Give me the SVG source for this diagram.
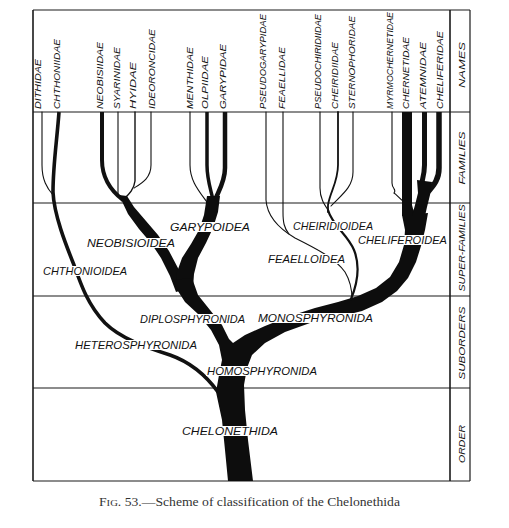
<svg xmlns="http://www.w3.org/2000/svg" width="509" height="528" viewBox="0 0 509 528">
<style>
.frame{fill:none;stroke:#1a1a1a;stroke-width:1.2}
.thin{fill:none;stroke:#111;stroke-width:1.1;stroke-linecap:round}
.med{fill:none;stroke:#111;stroke-width:1.8;stroke-linecap:round}
.thick{fill:none;stroke:#111;stroke-width:3.5;stroke-linecap:butt}
.blk{fill:#0d0d0d;stroke:none}
.vl{font-family:"Liberation Sans",Arial,sans-serif;font-style:italic;font-size:9.5px;fill:#111}
.hl{font-family:"Liberation Sans",Arial,sans-serif;font-style:italic;font-size:11px;fill:#111}
.ko{fill:#fff}
.cap{font-family:"Liberation Serif","Times New Roman",serif;font-size:11.5px;fill:#333}
</style>
<rect width="509" height="528" fill="#fff"/>
<g id="frame">
<line class="frame" x1="33" y1="10" x2="470" y2="10"/>
<line class="frame" x1="33" y1="10" x2="33" y2="481" style="stroke-width:1.6"/>
<line class="frame" x1="450" y1="10" x2="450" y2="481" style="stroke-width:1.6"/>
<line class="frame" x1="470" y1="10" x2="470" y2="481"/>
<line class="frame" x1="33" y1="112" x2="470" y2="112"/>
<line class="frame" x1="33" y1="203" x2="470" y2="203"/>
<line class="frame" x1="33" y1="296" x2="470" y2="296"/>
<line class="frame" x1="33" y1="388" x2="470" y2="388"/>
<line class="frame" x1="33" y1="481" x2="470" y2="481"/>
</g>
<g id="connectors">
<!-- Chthonioidea / Heterosphyronida -->
<path class="thin" d="M42,112 L42,165 C42,180 47,188 53,195"/>
<path class="thick" d="M59,112 C57,140 53,165 53,192 C54,215 66,245 74,265 C81,285 88,305 105,323 C120,338 145,347 170,355 C190,362 205,374 218,392" style="stroke-width:3.6"/>
<!-- Neobisioidea -->
<path class="thick" d="M102,112 L102,160 C102,178 110,190 123,200" style="stroke-width:4"/>
<path class="thin" d="M118,112 L118,196 L122,201"/>
<path class="thin" d="M151,112 L151,165 C151,178 142,183 134,188"/>
<path class="med" d="M135,112 L135,181 C134,190 128,195 123,200" style="stroke-width:1.4"/>
<path class="blk" d="M119,195 L127,196 L134,207 L146,221 L158,235 L169,251 L179,270 L190,288 L176,292 L170,276 L161,258 L151,243 L139,229 L128,214 Z"/>
<!-- Garypoidea -->
<path class="thin" d="M190,112 L190,165 C190,182 200,192 209,205"/>
<path class="thick" d="M207,112 L207,165 C207,180 211,190 213,200"/>
<path class="thick" d="M225,112 L225,168 C225,182 218,192 215,200" style="stroke-width:4.5"/>
<path class="blk" d="M207,196 L220,196 L218,212 L213,228 L206,243 L198,258 L194,274 L193,288 L176,288 L177,272 L182,258 L191,244 L199,230 L204,215 Z"/>
<!-- Trunk and main forks -->
<path class="blk" d="M228,481 L225,450 L222,420 L216,392 L219,375 L222,360 L219,345 L211,330 L198,314 L185,302 L176,288 L172,280 L192,278 L198,295 L210,310 L222,325 L229,339 L233,343 L245,335 L265,326 L290,316 L315,308 L338,302 L358,296 L376,288 L390,277 L399,262 L404,245 L405,230 L402,215 L428,213 L425,230 L421,246 L416,262 L408,278 L397,291 L382,302 L362,311 L338,317 L310,323 L285,332 L265,343 L252,355 L247,368 L244,385 L245,410 L248,440 L253,481 Z"/>
<!-- Feaelloidea -->
<path class="thin" d="M266,112 L266,200 C267,215 278,228 295,238 C315,248 335,258 345,272 C351,282 352,292 352,299"/>
<path class="thin" d="M283,112 L283,212 C283,222 284,228 289,234"/>
<!-- Cheiridioidea -->
<path class="thin" d="M320,112 L320,188 C320,198 324,204 328,210"/>
<path class="med" d="M338,112 L338,165 C338,182 330,192 328,205 L328,212"/>
<path class="thin" d="M353,112 L353,172 C353,188 340,196 331,206"/>
<path class="med" d="M328,210 C332,225 348,235 354,250 C360,265 358,282 351,299" style="stroke-width:2.2"/>
<!-- Cheliferoidea -->
<path class="thin" d="M392,112 L392,183 C392,189 397,189 394,193 C397,195 399,198 403,201"/>
<path class="blk" d="M402,112 L412,112 L412,205 C413,210 415,213 418,216 L402,216 Z"/>
<path class="thick" d="M424.5,112 L424.5,165 C424.5,175 422,180 421,187" style="stroke-width:5"/>
<path class="thick" d="M439,112 L439,168 C439,180 433,186 428,192" style="stroke-width:5.5"/>
<path class="blk" d="M417,180 L432,182 L430,195 L427,207 L425,216 L412,216 L415,205 L418,193 Z"/>
</g>
<g id="families">
<text class="vl" transform="translate(41,109) rotate(-90)" textLength="50" lengthAdjust="spacingAndGlyphs">DITHIDAE</text>
<text class="vl" transform="translate(60,109) rotate(-90)" textLength="70" lengthAdjust="spacingAndGlyphs">CHTHONIIDAE</text>
<text class="vl" transform="translate(103,109) rotate(-90)" textLength="67" lengthAdjust="spacingAndGlyphs">NEOBISIIDAE</text>
<text class="vl" transform="translate(120,109) rotate(-90)" textLength="62" lengthAdjust="spacingAndGlyphs">SYARINIDAE</text>
<text class="vl" transform="translate(136,109) rotate(-90)" textLength="47" lengthAdjust="spacingAndGlyphs">HYIDAE</text>
<text class="vl" transform="translate(155,109) rotate(-90)" textLength="80" lengthAdjust="spacingAndGlyphs">IDEORONCIDAE</text>
<text class="vl" transform="translate(193,109) rotate(-90)" textLength="62" lengthAdjust="spacingAndGlyphs">MENTHIDAE</text>
<text class="vl" transform="translate(208,109) rotate(-90)" textLength="53" lengthAdjust="spacingAndGlyphs">OLPIIDAE</text>
<text class="vl" transform="translate(226,109) rotate(-90)" textLength="65" lengthAdjust="spacingAndGlyphs">GARYPIDAE</text>
<text class="vl" transform="translate(266,109) rotate(-90)" textLength="95" lengthAdjust="spacingAndGlyphs">PSEUDOGARYPIDAE</text>
<text class="vl" transform="translate(285,109) rotate(-90)" textLength="62" lengthAdjust="spacingAndGlyphs">FEAELLIDAE</text>
<text class="vl" transform="translate(321,109) rotate(-90)" textLength="95" lengthAdjust="spacingAndGlyphs">PSEUDOCHIRIDIIDAE</text>
<text class="vl" transform="translate(338,109) rotate(-90)" textLength="67" lengthAdjust="spacingAndGlyphs">CHEIRIDIIDAE</text>
<text class="vl" transform="translate(355,109) rotate(-90)" textLength="93" lengthAdjust="spacingAndGlyphs">STERNOPHORIDAE</text>
<text class="vl" transform="translate(393,109) rotate(-90)" textLength="97" lengthAdjust="spacingAndGlyphs">MYRMOCHERNETIDAE</text>
<text class="vl" transform="translate(409,109) rotate(-90)" textLength="72" lengthAdjust="spacingAndGlyphs">CHERNETIDAE</text>
<text class="vl" transform="translate(426,109) rotate(-90)" textLength="67" lengthAdjust="spacingAndGlyphs">ATEMNIDAE</text>
<text class="vl" transform="translate(443,109) rotate(-90)" textLength="78" lengthAdjust="spacingAndGlyphs">CHELIFERIDAE</text>
</g>
<g id="ranks">
<text class="vl" text-anchor="middle" transform="translate(465,65) rotate(-90)" textLength="46" lengthAdjust="spacingAndGlyphs">NAMES</text>
<text class="vl" text-anchor="middle" transform="translate(465,158) rotate(-90)" textLength="53" lengthAdjust="spacingAndGlyphs">FAMILIES</text>
<text class="vl" text-anchor="middle" transform="translate(465,248) rotate(-90)" textLength="87" lengthAdjust="spacingAndGlyphs">SUPER-FAMILIES</text>
<text class="vl" text-anchor="middle" transform="translate(465,343) rotate(-90)" textLength="73" lengthAdjust="spacingAndGlyphs">SUBORDERS</text>
<text class="vl" text-anchor="middle" transform="translate(465,444) rotate(-90)" textLength="38" lengthAdjust="spacingAndGlyphs">ORDER</text>
</g>
<g id="garypoidea"><rect class="ko" x="169" y="222" width="82" height="10"/><text class="hl" x="170" y="231" textLength="80" lengthAdjust="spacingAndGlyphs">GARYPOIDEA</text></g>
<g id="neobisioidea"><rect class="ko" x="86" y="238" width="90" height="10"/><text class="hl" x="87" y="247" textLength="88" lengthAdjust="spacingAndGlyphs">NEOBISIOIDEA</text></g>
<g id="chthonioidea"><rect class="ko" x="42" y="266" width="86" height="10"/><text class="hl" x="43" y="275" textLength="84" lengthAdjust="spacingAndGlyphs">CHTHONIOIDEA</text></g>
<g id="cheiridioidea"><rect class="ko" x="292" y="221" width="82" height="10"/><text class="hl" x="293" y="230" textLength="80" lengthAdjust="spacingAndGlyphs">CHEIRIDIOIDEA</text></g>
<g id="cheliferoidea"><rect class="ko" x="357" y="235" width="91" height="10"/><text class="hl" x="358" y="244" textLength="89" lengthAdjust="spacingAndGlyphs">CHELIFEROIDEA</text></g>
<g id="feaelloidea"><rect class="ko" x="267" y="254" width="79" height="10"/><text class="hl" x="268" y="263" textLength="77" lengthAdjust="spacingAndGlyphs">FEAELLOIDEA</text></g>
<g id="diplosphyronida"><rect class="ko" x="139" y="314" width="107" height="10"/><text class="hl" x="140" y="323" textLength="105" lengthAdjust="spacingAndGlyphs">DIPLOSPHYRONIDA</text></g>
<g id="monosphyronida"><rect class="ko" x="257" y="313" width="117" height="10"/><text class="hl" x="258" y="322" textLength="115" lengthAdjust="spacingAndGlyphs">MONOSPHYRONIDA</text></g>
<g id="heterosphyronida"><rect class="ko" x="74" y="340" width="124" height="10"/><text class="hl" x="75" y="349" textLength="122" lengthAdjust="spacingAndGlyphs">HETEROSPHYRONIDA</text></g>
<g id="homosphyronida"><rect class="ko" x="206" y="366" width="112" height="10"/><text class="hl" x="207" y="375" textLength="110" lengthAdjust="spacingAndGlyphs">HOMOSPHYRONIDA</text></g>
<g id="chelonethida"><rect class="ko" x="181" y="426" width="98" height="10"/><text class="hl" x="182" y="435" textLength="96" lengthAdjust="spacingAndGlyphs">CHELONETHIDA</text></g>
<g id="caption"><text class="cap" x="99" y="506" textLength="301" lengthAdjust="spacingAndGlyphs">F<tspan font-size="9">IG</tspan>. 53.—Scheme of classification of the Chelonethida</text></g>
</svg>
